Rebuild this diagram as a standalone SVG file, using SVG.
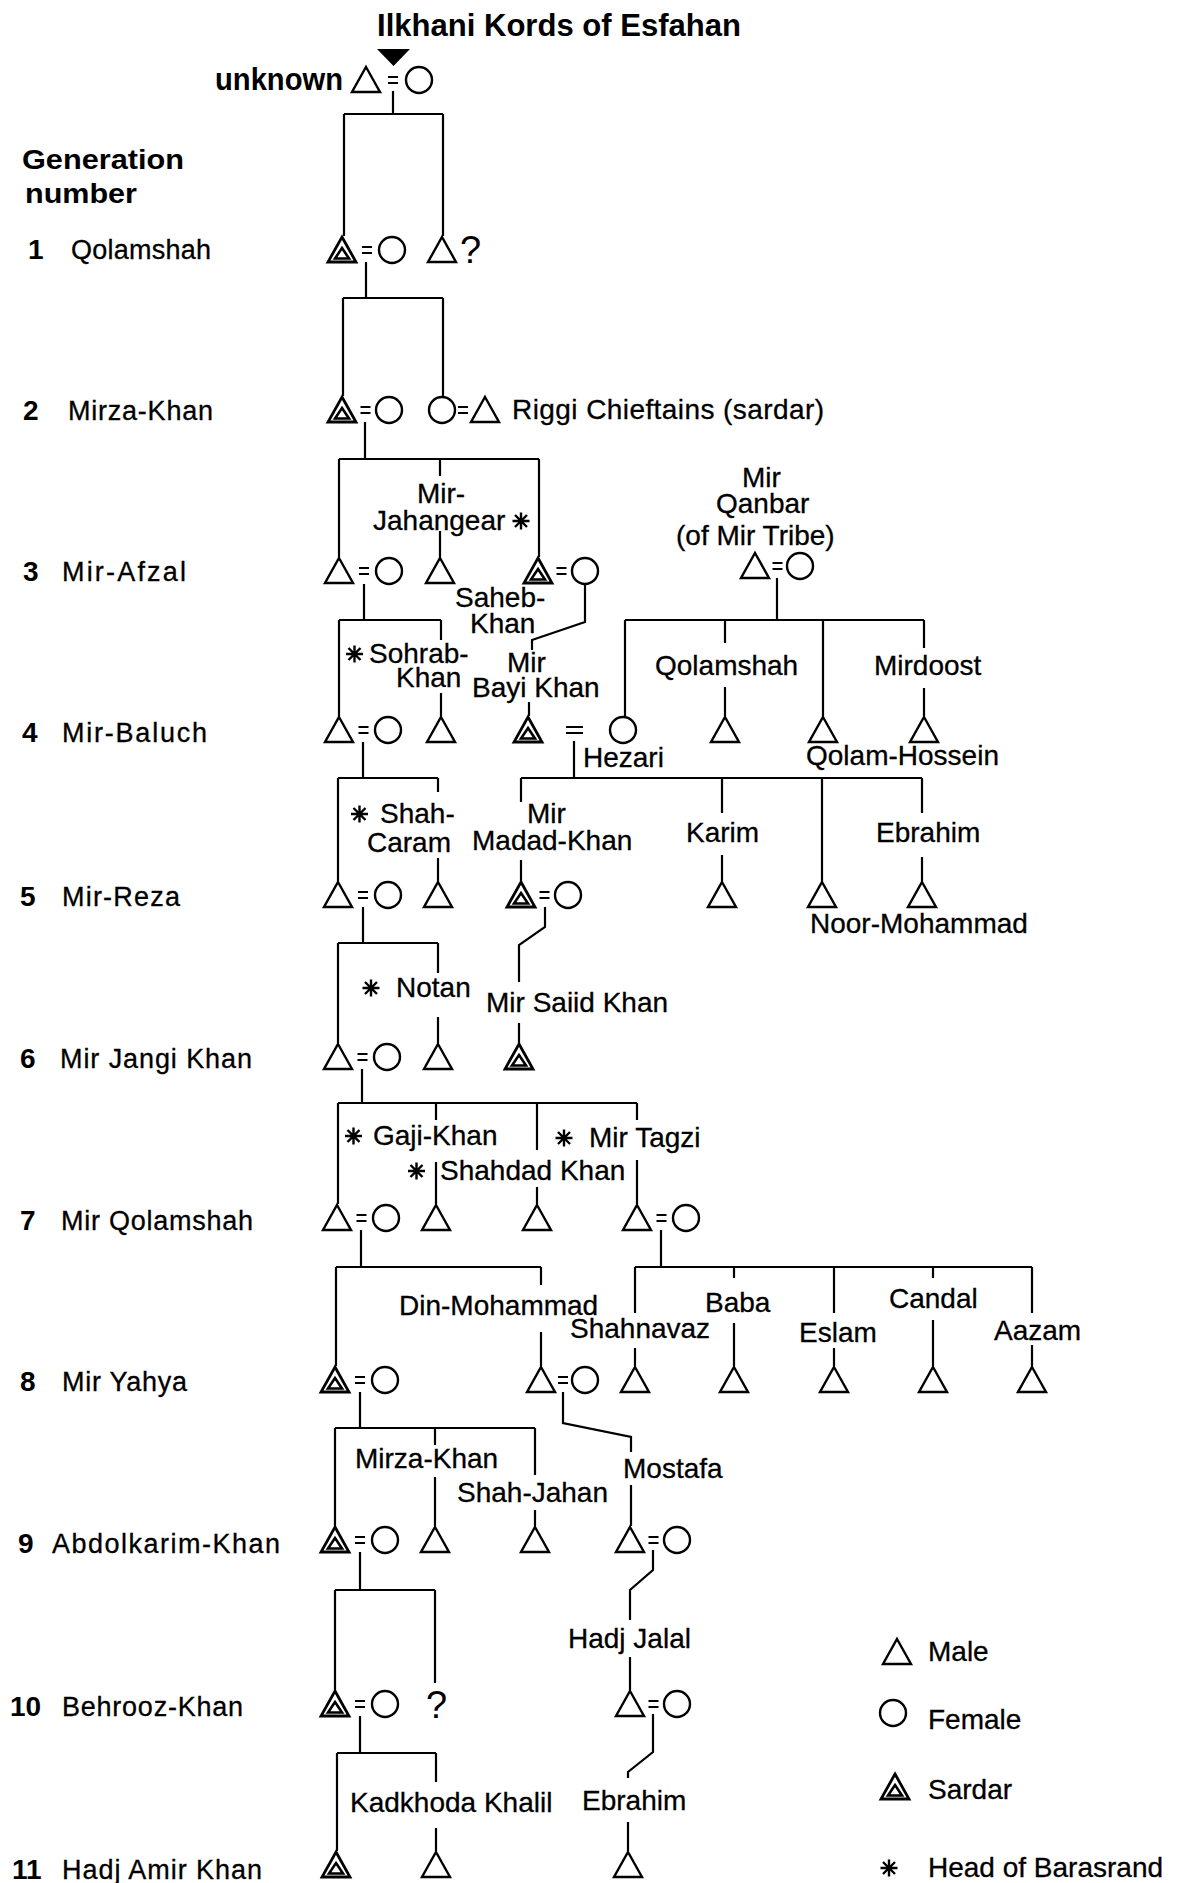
<svg xmlns="http://www.w3.org/2000/svg" xmlns:xlink="http://www.w3.org/1999/xlink" width="1177" height="1883" viewBox="0 0 1177 1883">
<style>
  .c { fill: none; stroke: #000; stroke-width: 2.2; }
  .sym { fill: #fff; stroke: #000; stroke-width: 2.4; stroke-linejoin: miter; }
  text { font-family: "Liberation Sans", Arial, Helvetica, sans-serif; fill: #000; stroke: #000; stroke-width: 0.3; }
  .t { font-size: 28px; }
  .g { font-size: 27px; }
  .n { font-size: 28px; font-weight: bold; stroke-width: 0; }
  .h { font-weight: bold; stroke-width: 0; }
  .q { font-size: 38px; stroke-width: 0; }
</style>
<defs>
  <path id="male" class="sym" d="M0,-13L14,12H-14Z"/>
  <circle id="female" class="sym" r="13"/>
  <g id="sardar">
    <path class="sym" style="stroke-width:2.8" d="M0,-13L14,12H-14Z"/>
    <path class="sym" style="stroke-width:2.6" d="M0,-2L7,8.5H-7Z"/>
  </g>
  <path id="eq" class="c" d="M-5,-3H5M-5,3H5"/>
  <path id="star" class="c" style="stroke-width:2.4" d="M0,-8.5V8.5M-8.5,0H8.5M-6,-6L6,6M-6,6L6,-6"/>
</defs>
<rect width="1177" height="1883" fill="#fff"/>

<!-- heading and generation column -->
<g id="heading">
  <text class="h" x="377" y="36" font-size="31" textLength="364" lengthAdjust="spacingAndGlyphs">Ilkhani Kords of Esfahan</text>
  <text class="h" x="22" y="169" font-size="28" textLength="162" lengthAdjust="spacingAndGlyphs">Generation</text>
  <text class="h" x="25" y="203" font-size="28" textLength="112" lengthAdjust="spacingAndGlyphs">number</text>
</g>
<g id="generations">
  <text class="n" x="28" y="259">1</text><text class="g" x="71" y="259" textLength="140">Qolamshah</text>
  <text class="n" x="23" y="420">2</text><text class="g" x="68" y="420" textLength="145">Mirza-Khan</text>
  <text class="n" x="23" y="581">3</text><text class="g" x="62" y="581" textLength="124">Mir-Afzal</text>
  <text class="n" x="22" y="742">4</text><text class="g" x="62" y="742" textLength="145">Mir-Baluch</text>
  <text class="n" x="20" y="906">5</text><text class="g" x="62" y="906" textLength="118">Mir-Reza</text>
  <text class="n" x="20" y="1068">6</text><text class="g" x="60" y="1068" textLength="192">Mir Jangi Khan</text>
  <text class="n" x="20" y="1230">7</text><text class="g" x="61" y="1230" textLength="192">Mir Qolamshah</text>
  <text class="n" x="20" y="1391">8</text><text class="g" x="62" y="1391" textLength="125">Mir Yahya</text>
  <text class="n" x="18" y="1553">9</text><text class="g" x="52" y="1553" textLength="228">Abdolkarim-Khan</text>
  <text class="n" x="10" y="1716">10</text><text class="g" x="62" y="1716" textLength="181">Behrooz-Khan</text>
  <text class="n" x="12" y="1879">11</text><text class="g" x="62" y="1879" textLength="200">Hadj Amir Khan</text>
</g>

<!-- connectors: marriage marks and descent lines -->
<g id="connectors" class="c">
  <use href="#eq" x="393" y="80"/>
  <path d="M393,91V114M344,114H443M344,114V236M443,114V236"/>
  <use href="#eq" x="367" y="250"/>
  <path d="M366,262V298M343,298H443M343,298V396M443,298V396"/>
  <use href="#eq" x="365.5" y="410"/>
  <use href="#eq" x="463" y="410"/>
  <path d="M365,422V459M339,459H539M339,459V557M440,459V476M440,531V557M539,459V557"/>
  <use href="#eq" x="364" y="571"/>
  <use href="#eq" x="561.5" y="571"/>
  <use href="#eq" x="777.5" y="566"/>
  <path d="M585,584V622L532,640V650M529,702V716"/>
  <path d="M364,584V620M339,620H441M339,620V716M441,620V640M441,693V716"/>
  <path d="M777,578V620M625,620H924M625,620V716M725,620V643M725,687V716M823,620V716M924,620V648M924,688V716"/>
  <path d="M566,727H583M566,733H583"/>
  <path d="M574,741V778M521,778H922M521,778V802M521,860V881M722,778V813M722,855V881M822,778V881M922,778V813M922,857V881"/>
  <use href="#eq" x="363.5" y="730"/>
  <path d="M363,742V778M338,778H438M338,778V881M438,778V792M438,858V881"/>
  <use href="#eq" x="363" y="895"/>
  <use href="#eq" x="544.5" y="895"/>
  <path d="M363,907V943M338,943H438M338,943V1043M438,943V973M438,1017V1043"/>
  <path d="M545,907V927L519,945V982M519,1023V1043"/>
  <use href="#eq" x="362.5" y="1057"/>
  <path d="M362,1069V1103M338,1103H637M338,1103V1204M436,1103V1120M436,1162V1204M537,1103V1150M537,1187V1204M637,1103V1120M637,1160V1204"/>
  <use href="#eq" x="361.5" y="1218"/>
  <use href="#eq" x="661.5" y="1218"/>
  <path d="M361,1230V1267M336,1267H541M336,1267V1366M541,1267V1285M541,1332V1366"/>
  <path d="M661,1230V1267M635,1267H1032M635,1267V1313M635,1348V1366M734,1267V1278M734,1323V1366M834,1267V1313M834,1348V1366M933,1267V1278M933,1320V1366M1032,1267V1313M1032,1345V1366"/>
  <use href="#eq" x="360" y="1380"/>
  <use href="#eq" x="563" y="1380"/>
  <path d="M360,1392V1428M335,1428H535M335,1428V1526M435,1428V1445M435,1477V1526M535,1428V1475M535,1510V1526"/>
  <path d="M563,1392V1423L631,1437V1452M631,1485V1526"/>
  <use href="#eq" x="360" y="1540"/>
  <use href="#eq" x="653.5" y="1540"/>
  <path d="M360,1552V1590M335,1590H435M335,1590V1690M435,1590V1683"/>
  <path d="M653,1550V1570L630,1590V1620M630,1657V1690"/>
  <use href="#eq" x="360" y="1704"/>
  <use href="#eq" x="653.5" y="1704"/>
  <path d="M360,1716V1753M337,1753H436M337,1753V1851M436,1753V1782M436,1828V1851"/>
  <path d="M653,1714V1752L628,1772V1778M628,1822V1851"/>
</g>

<!-- founding couple -->
<g id="ancestor">
  <path d="M377,49H410L393.5,66Z" fill="#000"/>
  <text class="h" x="215" y="90" font-size="31" textLength="128" lengthAdjust="spacingAndGlyphs">unknown</text>
  <use href="#male" x="366" y="80"/>
</g>
<g id="ancestor-wife"><use href="#female" x="419" y="80"/></g>

<!-- generation 1 -->
<g id="qolamshah"><use href="#sardar" x="342" y="250"/></g>
<g id="qolamshah-wife"><use href="#female" x="392" y="250"/></g>
<g id="qolamshah-brother"><use href="#male" x="442" y="250"/><text class="q" x="460" y="263">?</text></g>

<!-- generation 2 -->
<g id="mirza-khan"><use href="#sardar" x="342" y="410"/></g>
<g id="mirza-khan-wife"><use href="#female" x="389" y="410"/></g>
<g id="mirza-khan-sister"><use href="#female" x="442" y="410"/></g>
<g id="riggi-chieftain"><use href="#male" x="485" y="410"/><text class="t" x="512" y="419" textLength="312">Riggi Chieftains (sardar)</text></g>

<!-- generation 3 -->
<g id="mir-afzal"><use href="#male" x="339" y="571"/></g>
<g id="mir-afzal-wife"><use href="#female" x="389" y="571"/></g>
<g id="mir-jahangear">
  <text class="t"><tspan x="417" y="503">Mir-</tspan><tspan x="373" y="530">Jahangear</tspan></text>
  <use href="#star" x="521" y="521"/>
  <use href="#male" x="440" y="571"/>
</g>
<g id="saheb-khan">
  <use href="#sardar" x="538" y="571"/>
  <text class="t"><tspan x="455" y="607">Saheb-</tspan><tspan x="470" y="633">Khan</tspan></text>
</g>
<g id="saheb-khan-wife"><use href="#female" x="585" y="571"/></g>
<g id="mir-qanbar">
  <text class="t"><tspan x="742" y="487">Mir</tspan><tspan x="716" y="513">Qanbar</tspan><tspan x="676" y="545">(of Mir Tribe)</tspan></text>
  <use href="#male" x="755" y="566"/>
</g>
<g id="mir-qanbar-wife"><use href="#female" x="800" y="566"/></g>

<!-- generation 4 -->
<g id="mir-baluch"><use href="#male" x="339" y="730"/></g>
<g id="mir-baluch-wife"><use href="#female" x="388" y="730"/></g>
<g id="sohrab-khan">
  <use href="#star" x="354.5" y="654"/>
  <text class="t"><tspan x="369" y="663">Sohrab-</tspan><tspan x="396" y="687">Khan</tspan></text>
  <use href="#male" x="441" y="730"/>
</g>
<g id="mir-bayi-khan">
  <text class="t"><tspan x="507" y="672">Mir</tspan><tspan x="472" y="697">Bayi Khan</tspan></text>
  <use href="#sardar" x="528" y="730"/>
</g>
<g id="hezari"><use href="#female" x="623" y="730"/><text class="t" x="583" y="767">Hezari</text></g>
<g id="qolamshah-qanbar"><text class="t" x="655" y="675">Qolamshah</text><use href="#male" x="725" y="730"/></g>
<g id="qolam-hossein"><use href="#male" x="823" y="730"/><text class="t" x="806" y="765">Qolam-Hossein</text></g>
<g id="mirdoost"><text class="t" x="874" y="675">Mirdoost</text><use href="#male" x="924" y="730"/></g>

<!-- generation 5 -->
<g id="mir-reza"><use href="#male" x="338" y="895"/></g>
<g id="mir-reza-wife"><use href="#female" x="388" y="895"/></g>
<g id="shah-caram">
  <use href="#star" x="359.5" y="814"/>
  <text class="t"><tspan x="380" y="823">Shah-</tspan><tspan x="367" y="852">Caram</tspan></text>
  <use href="#male" x="438" y="895"/>
</g>
<g id="mir-madad-khan">
  <text class="t"><tspan x="527" y="823">Mir</tspan><tspan x="472" y="850">Madad-Khan</tspan></text>
  <use href="#sardar" x="521" y="895"/>
</g>
<g id="mir-madad-khan-wife"><use href="#female" x="568" y="895"/></g>
<g id="karim"><text class="t" x="686" y="842">Karim</text><use href="#male" x="722" y="895"/></g>
<g id="noor-mohammad"><use href="#male" x="822" y="895"/><text class="t" x="810" y="933">Noor-Mohammad</text></g>
<g id="ebrahim-5"><text class="t" x="876" y="842">Ebrahim</text><use href="#male" x="922" y="895"/></g>

<!-- generation 6 -->
<g id="mir-jangi-khan"><use href="#male" x="338" y="1057"/></g>
<g id="mir-jangi-khan-wife"><use href="#female" x="387" y="1057"/></g>
<g id="notan">
  <use href="#star" x="371" y="988"/>
  <text class="t" x="396" y="997">Notan</text>
  <use href="#male" x="438" y="1057"/>
</g>
<g id="mir-saiid-khan">
  <text class="t" x="486" y="1012">Mir Saiid Khan</text>
  <use href="#sardar" x="519" y="1057"/>
</g>

<!-- generation 7 -->
<g id="mir-qolamshah"><use href="#male" x="337" y="1218"/></g>
<g id="mir-qolamshah-wife"><use href="#female" x="386" y="1218"/></g>
<g id="gaji-khan">
  <use href="#star" x="353.5" y="1136"/>
  <text class="t" x="373" y="1145">Gaji-Khan</text>
  <use href="#male" x="436" y="1218"/>
</g>
<g id="shahdad-khan">
  <use href="#star" x="416.5" y="1171"/>
  <text class="t" x="440" y="1180">Shahdad Khan</text>
  <use href="#male" x="537" y="1218"/>
</g>
<g id="mir-tagzi">
  <use href="#star" x="564" y="1138"/>
  <text class="t" x="589" y="1147">Mir Tagzi</text>
  <use href="#male" x="637" y="1218"/>
</g>
<g id="mir-tagzi-wife"><use href="#female" x="686" y="1218"/></g>

<!-- generation 8 -->
<g id="mir-yahya"><use href="#sardar" x="335" y="1380"/></g>
<g id="mir-yahya-wife"><use href="#female" x="385" y="1380"/></g>
<g id="din-mohammad"><text class="t" x="399" y="1315">Din-Mohammad</text><use href="#male" x="541" y="1380"/></g>
<g id="din-mohammad-wife"><use href="#female" x="585" y="1380"/></g>
<g id="shahnavaz"><text class="t" x="570" y="1338">Shahnavaz</text><use href="#male" x="635" y="1380"/></g>
<g id="baba"><text class="t" x="705" y="1312">Baba</text><use href="#male" x="734" y="1380"/></g>
<g id="eslam"><text class="t" x="799" y="1342">Eslam</text><use href="#male" x="834" y="1380"/></g>
<g id="candal"><text class="t" x="889" y="1308">Candal</text><use href="#male" x="933" y="1380"/></g>
<g id="aazam"><text class="t" x="994" y="1340">Aazam</text><use href="#male" x="1032" y="1380"/></g>

<!-- generation 9 -->
<g id="abdolkarim-khan"><use href="#sardar" x="335" y="1540"/></g>
<g id="abdolkarim-khan-wife"><use href="#female" x="385" y="1540"/></g>
<g id="mirza-khan-9"><text class="t" x="355" y="1468">Mirza-Khan</text><use href="#male" x="435" y="1540"/></g>
<g id="shah-jahan"><text class="t" x="457" y="1502">Shah-Jahan</text><use href="#male" x="535" y="1540"/></g>
<g id="mostafa"><text class="t" x="623" y="1478">Mostafa</text><use href="#male" x="630" y="1540"/></g>
<g id="mostafa-wife"><use href="#female" x="677" y="1540"/></g>

<!-- generation 10 -->
<g id="behrooz-khan"><use href="#sardar" x="335" y="1704"/></g>
<g id="behrooz-khan-wife"><use href="#female" x="385" y="1704"/></g>
<g id="unknown-sibling"><text class="q" x="426" y="1718">?</text></g>
<g id="hadj-jalal"><text class="t" x="568" y="1648">Hadj Jalal</text><use href="#male" x="630" y="1704"/></g>
<g id="hadj-jalal-wife"><use href="#female" x="677" y="1704"/></g>

<!-- generation 11 -->
<g id="hadj-amir-khan"><use href="#sardar" x="336" y="1865"/></g>
<g id="kadkhoda-khalil"><text class="t" x="350" y="1812">Kadkhoda Khalil</text><use href="#male" x="436" y="1865"/></g>
<g id="ebrahim-11"><text class="t" x="582" y="1810">Ebrahim</text><use href="#male" x="628" y="1865"/></g>

<!-- key -->
<g id="legend">
  <use href="#male" x="897" y="1652"/><text class="t" x="928" y="1661">Male</text>
  <use href="#female" x="893" y="1713"/><text class="t" x="928" y="1729">Female</text>
  <use href="#sardar" x="895" y="1787"/><text class="t" x="928" y="1799">Sardar</text>
  <use href="#star" x="889" y="1868"/><text class="t" x="928" y="1877">Head of Barasrand</text>
</g>
</svg>
